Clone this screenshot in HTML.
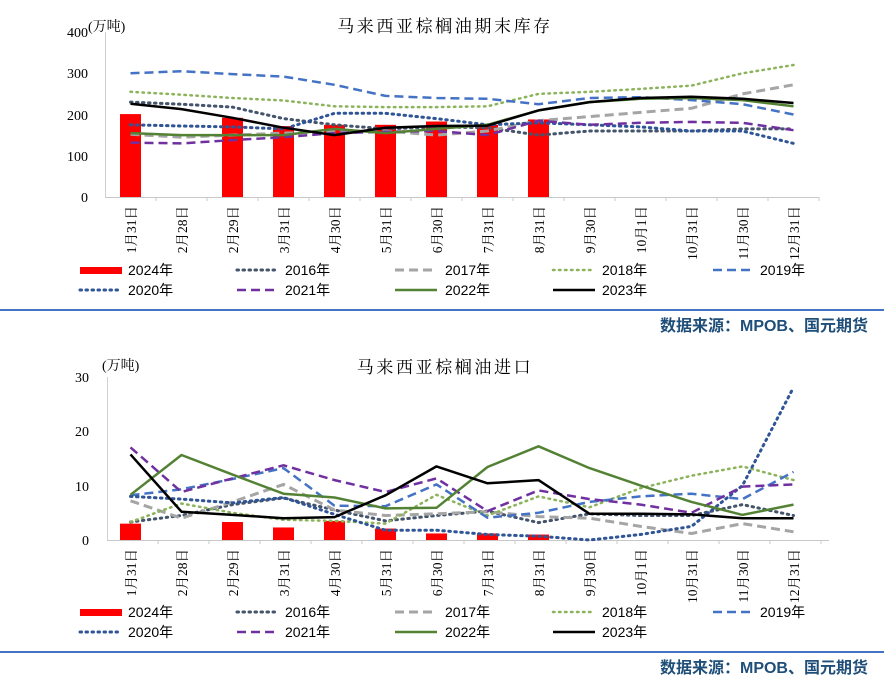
<!DOCTYPE html>
<html><head><meta charset="utf-8"><style>
body{margin:0;background:#fff;}
svg{display:block;font-family:"Liberation Serif","Noto Serif CJK SC",serif;}
.lg{font-family:"Liberation Sans","Noto Sans CJK SC",sans-serif;font-size:14px;fill:#000}
.src{font-family:"Liberation Sans","Noto Sans CJK SC",sans-serif;font-size:16px;font-weight:bold;fill:#1F4E79}
.tt{font-size:17px;letter-spacing:2.6px}
</style></head><body>
<svg id="s" width="884" height="681" viewBox="0 0 884 681">
<rect width="884" height="681" fill="#fff"/>
<!-- top chart -->
<text class="tt" x="445" y="32" text-anchor="middle">马来西亚棕榈油期末库存</text>
<text x="88" y="31" font-size="14">(万吨)</text>
<g font-size="14" text-anchor="end">
<text x="88" y="37">400</text><text x="88" y="78">300</text><text x="88" y="120">200</text><text x="88" y="161">100</text><text x="88" y="202">0</text>
</g>
<line x1="105.5" y1="32" x2="105.5" y2="197" stroke="#d0d0d0"/>
<line x1="105" y1="197.5" x2="819" y2="197.5" stroke="#c8c8c8"/>
<g id="ticks1"></g>
<g id="bars1" fill="#FF0000"></g>
<g id="lines1"></g>
<g font-size="13.5">
<text transform="translate(136,206) rotate(-90)" text-anchor="end">1月31日</text>
<text transform="translate(187,206) rotate(-90)" text-anchor="end">2月28日</text>
<text transform="translate(238,206) rotate(-90)" text-anchor="end">2月29日</text>
<text transform="translate(289,206) rotate(-90)" text-anchor="end">3月31日</text>
<text transform="translate(340,206) rotate(-90)" text-anchor="end">4月30日</text>
<text transform="translate(391,206) rotate(-90)" text-anchor="end">5月31日</text>
<text transform="translate(442,206) rotate(-90)" text-anchor="end">6月30日</text>
<text transform="translate(493,206) rotate(-90)" text-anchor="end">7月31日</text>
<text transform="translate(544,206) rotate(-90)" text-anchor="end">8月31日</text>
<text transform="translate(595,206) rotate(-90)" text-anchor="end">9月30日</text>
<text transform="translate(646,206) rotate(-90)" text-anchor="end">10月1日</text>
<text transform="translate(697,206) rotate(-90)" text-anchor="end">10月31日</text>
<text transform="translate(748,206) rotate(-90)" text-anchor="end">11月30日</text>
<text transform="translate(799,206) rotate(-90)" text-anchor="end">12月31日</text>
</g>
<g class="lg">
<text x="128" y="275">2024年</text><text x="285" y="275">2016年</text><text x="445" y="275">2017年</text><text x="602" y="275">2018年</text><text x="760" y="275">2019年</text>
<text x="128" y="295">2020年</text><text x="285" y="295">2021年</text><text x="445" y="295">2022年</text><text x="602" y="295">2023年</text>
</g>
<g id="leg1"></g>
<line x1="0" y1="310" x2="884" y2="310" stroke="#4472C4" stroke-width="2"/>
<text class="src" x="868" y="331" text-anchor="end">数据来源：MPOB、国元期货</text>

<!-- bottom chart -->
<text class="tt" x="445" y="373" text-anchor="middle">马来西亚棕榈油进口</text>
<text x="102" y="370" font-size="14">(万吨)</text>
<g font-size="14" text-anchor="end">
<text x="89" y="382">30</text><text x="89" y="436">20</text><text x="89" y="491">10</text><text x="89" y="545">0</text>
</g>
<line x1="107.5" y1="377" x2="107.5" y2="540" stroke="#d0d0d0"/>
<line x1="107" y1="540.5" x2="829" y2="540.5" stroke="#c8c8c8"/>
<g id="ticks2"></g>
<g id="bars2" fill="#FF0000"></g>
<g id="lines2"></g>
<g font-size="13.5">
<text transform="translate(136,549) rotate(-90)" text-anchor="end">1月31日</text>
<text transform="translate(187,549) rotate(-90)" text-anchor="end">2月28日</text>
<text transform="translate(238,549) rotate(-90)" text-anchor="end">2月29日</text>
<text transform="translate(289,549) rotate(-90)" text-anchor="end">3月31日</text>
<text transform="translate(340,549) rotate(-90)" text-anchor="end">4月30日</text>
<text transform="translate(391,549) rotate(-90)" text-anchor="end">5月31日</text>
<text transform="translate(442,549) rotate(-90)" text-anchor="end">6月30日</text>
<text transform="translate(493,549) rotate(-90)" text-anchor="end">7月31日</text>
<text transform="translate(544,549) rotate(-90)" text-anchor="end">8月31日</text>
<text transform="translate(595,549) rotate(-90)" text-anchor="end">9月30日</text>
<text transform="translate(646,549) rotate(-90)" text-anchor="end">10月1日</text>
<text transform="translate(697,549) rotate(-90)" text-anchor="end">10月31日</text>
<text transform="translate(748,549) rotate(-90)" text-anchor="end">11月30日</text>
<text transform="translate(799,549) rotate(-90)" text-anchor="end">12月31日</text>
</g>
<g class="lg">
<text x="128" y="617">2024年</text><text x="285" y="617">2016年</text><text x="445" y="617">2017年</text><text x="602" y="617">2018年</text><text x="760" y="617">2019年</text>
<text x="128" y="637">2020年</text><text x="285" y="637">2021年</text><text x="445" y="637">2022年</text><text x="602" y="637">2023年</text>
</g>
<g id="leg2"></g>
<line x1="0" y1="652" x2="884" y2="652" stroke="#4472C4" stroke-width="2"/>
<text class="src" x="868" y="673" text-anchor="end">数据来源：MPOB、国元期货</text>
</svg>
<script>
var NS="http://www.w3.org/2000/svg";
function el(p,t,a){var e=document.createElementNS(NS,t);for(var k in a)e.setAttribute(k,a[k]);document.getElementById(p).appendChild(e);return e;}
var st={
"2016":{c:"#44546A",d:"1.5 4.5",w:3,cap:"round"},
"2017":{c:"#A5A5A5",d:"9 5",w:3},
"2018":{c:"#8BB35A",d:"1.5 4.5",w:2.5,cap:"round"},
"2019":{c:"#4472C4",d:"9 5",w:2.5},
"2020":{c:"#2F5597",d:"1.5 4.5",w:3,cap:"round"},
"2021":{c:"#7030A0",d:"9 5",w:2.5},
"2022":{c:"#548235",d:"",w:2.5},
"2023":{c:"#000000",d:"",w:2.5}};
function X(i){return 130.5+51*i;}
function draw(n,base,scale,bars,data){
 for(var i=1;i<=14;i++){el("ticks"+n,"line",{x1:105+51*i+(n==2?2:0),x2:105+51*i+(n==2?2:0),y1:base,y2:base+4,stroke:"#c8c8c8"});}
 bars.forEach(function(v,i){if(v!=null)el("bars"+n,"rect",{x:X(i)-10.5,y:base-v*scale,width:21,height:v*scale});});
 ["2016","2017","2018","2019","2020","2021","2022","2023"].forEach(function(k){
  var s=st[k];var pts=data[k].map(function(v,i){return X(i)+","+(base-v*scale).toFixed(1);}).join(" ");
  el("lines"+n,"polyline",{points:pts,fill:"none",stroke:s.c,"stroke-width":s.w,"stroke-dasharray":s.d,"stroke-linecap":s.cap||"butt","stroke-linejoin":"round"});
 });
 var ly=n==1?270:612, pos={"2016":[237,0],"2017":[395,0],"2018":[553,0],"2019":[713,0],"2020":[80,1],"2021":[237,1],"2022":[395,1],"2023":[553,1]};
 el("leg"+n,"rect",{x:80,y:ly-3,width:42,height:7,fill:"#FF0000"});
 for(var k in pos){var s=st[k];var y=ly+pos[k][1]*20;el("leg"+n,"line",{x1:pos[k][0],x2:pos[k][0]+42,y1:y,y2:y,stroke:s.c,"stroke-width":s.w,"stroke-dasharray":s.d,"stroke-linecap":s.cap||"butt"});}
}
draw(1,197,0.4125,[201,null,192,172,175,175,183,175,188],{
"2016":[230,225,218,190,175,165,170,168,150,160,160,160,165,165],
"2017":[152,145,150,155,158,160,150,160,185,195,205,215,250,272],
"2018":[255,248,240,234,220,218,218,220,250,255,262,270,300,320],
"2019":[300,305,298,292,272,245,240,238,225,240,242,235,225,200],
"2020":[175,172,170,165,203,203,190,175,180,175,170,160,160,130],
"2021":[132,130,138,145,155,158,160,150,185,175,180,182,180,162],
"2022":[155,150,150,150,165,155,165,175,210,230,238,240,235,220],
"2023":[226,213,192,168,150,168,172,173,210,230,240,243,238,228]});
draw(2,540,5.45,[3.0,null,3.3,2.3,3.5,2.1,1.2,1.2,1.0],{
"2016":[3.3,4.5,6.5,7.7,5.5,3.5,4.5,5.3,3.2,4.8,4.5,4.5,6.5,4.5],
"2017":[7.2,4.0,7.0,10.2,5.5,4.5,4.8,5.2,4.3,4.0,2.5,1.2,3.0,1.5],
"2018":[3.3,6.7,5.0,3.7,3.5,3.0,8.3,4.5,8.0,6.0,9.5,11.8,13.5,11.0],
"2019":[8.2,9.3,11.2,13.2,6.3,6.2,10.2,4.1,5.0,7.0,8.0,8.5,7.5,12.5],
"2020":[8.0,7.5,6.8,7.8,4.7,1.8,1.8,1.0,0.7,0,1.0,2.5,10,28],
"2021":[17.0,8.8,11.3,13.7,11.0,8.8,11.3,5.3,9.1,7.5,6.5,5.0,9.8,10.2],
"2022":[8.3,15.6,12.0,8.5,7.8,5.8,5.9,13.4,17.2,13.2,10.0,7.0,4.6,6.5],
"2023":[15.7,5.2,4.6,4.0,4.2,8.2,13.5,10.4,11.0,4.8,4.8,4.7,4.0,4.0]});
</script>
</body></html>
